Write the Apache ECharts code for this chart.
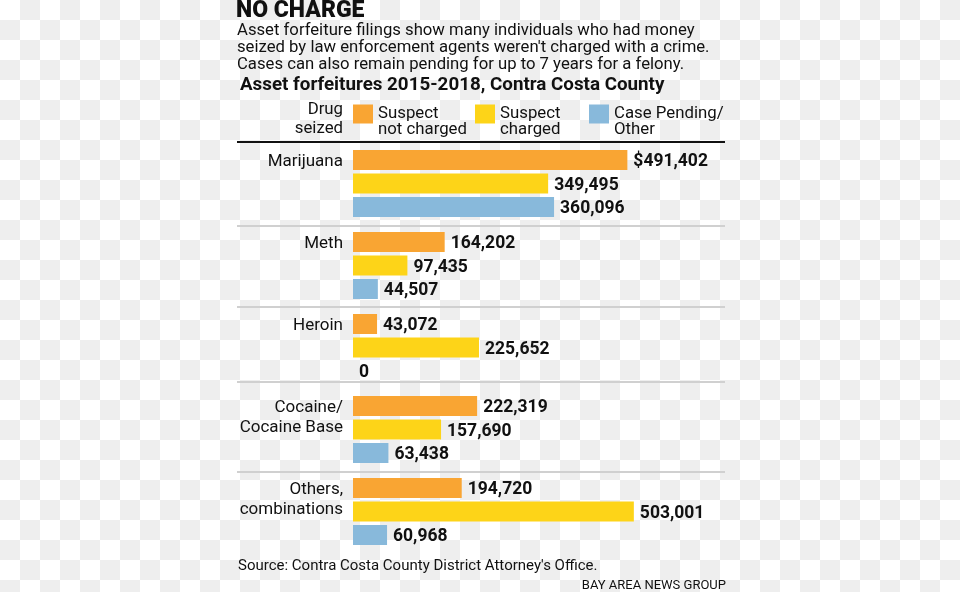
<!DOCTYPE html>
<html>
<head>
<meta charset="utf-8">
<script src="https://cdn.jsdelivr.net/npm/echarts@6/dist/echarts.min.js"></script>
<style>
html,body{margin:0;padding:0;}
body{width:960px;height:592px;background-color:#fff;
background-image:conic-gradient(#eeeeee 25%, #ffffff 0 50%, #eeeeee 0 75%, #ffffff 0);
background-size:40px 40px;}
#chart{width:960px;height:592px;}
</style>
</head>
<body>
<div id="chart"></div>
<script>
const categories = ['Marijuana', 'Meth', 'Heroin', 'Cocaine/\nCocaine Base', 'Others,\ncombinations'];
const seriesNames = ['Suspect\nnot charged', 'Suspect\ncharged', 'Case Pending/\nOther'];
const notCharged = [491402, 164202, 43072, 222319, 194720];
const charged = [349495, 97435, 225652, 157690, 503001];
const pending = [360096, 44507, 0, 63438, 60968];
const colors = ['#F9A533', '#FDD418', '#88B9DB'];

const FONT = 'Roboto';
const chart = echarts.init(document.getElementById('chart'), null, {renderer: 'canvas'});

function fmt(v) { return v.toLocaleString('en-US'); }

function makeSeries(name, data, color, idx) {
  return {
    name: name,
    type: 'bar',
    data: data,
    barWidth: 20,
    barGap: '17.5%',
    itemStyle: {color: color},
    label: {
      show: true,
      position: 'right',
      distance: 6,
      offset: [0, 2],
      fontFamily: FONT,
      fontWeight: 'bold',
      fontSize: 17.5,
      color: '#111',
      formatter: function (p) {
        return (idx === 0 && p.dataIndex === 0 ? '$' : '') + fmt(p.value);
      }
    },
    emphasis: {disabled: true},
    animation: false
  };
}

const sepY = [226, 307, 382, 472];
const graphics = [{
  type: 'line', shape: {x1: 237, y1: 142, x2: 725, y2: 142},
  style: {stroke: '#111', lineWidth: 2}, silent: true
}];
sepY.forEach(y => graphics.push({
  type: 'line', shape: {x1: 237, y1: y, x2: 725, y2: y},
  style: {stroke: '#d0d0d0', lineWidth: 2}, silent: true
}));
graphics.push({
  type: 'text', x: 343, y: 100, silent: true,
  style: {text: 'Drug\nseized', align: 'right', verticalAlign: 'top',
    fontFamily: FONT, fontSize: 16.8, lineHeight: 19, fill: '#111'}
});

const option = {
  animation: false,
  title: [
    {text: 'NO CHARGE', left: 236, top: -1, padding: 0,
      textStyle: {fontFamily: FONT, fontWeight: 900, fontSize: 23, lineHeight: 24, color: '#111'}},
    {text: "Asset forfeiture filings show many individuals who had money\nseized by law enforcement agents weren't charged with a crime.\nCases can also remain pending for up to 7 years for a felony.",
      left: 237, top: 22, padding: 0,
      textStyle: {fontFamily: FONT, fontWeight: 'normal', fontSize: 16.7, lineHeight: 17, color: '#111'}},
    {text: 'Asset forfeitures 2015-2018, Contra Costa County', left: 240, top: 75, padding: 0,
      textStyle: {fontFamily: FONT, fontWeight: 'bold', fontSize: 18.8, lineHeight: 20, color: '#111'}},
    {text: "Source: Contra Costa County District Attorney's Office.", left: 238, top: 557, padding: 0,
      textStyle: {fontFamily: FONT, fontWeight: 'normal', fontSize: 15, lineHeight: 18, color: '#111'}},
    {text: 'BAY AREA NEWS GROUP', right: 234, top: 578, padding: 0,
      textStyle: {fontFamily: FONT, fontWeight: 'normal', fontSize: 13, lineHeight: 16, color: '#111'}}
  ],
  legend: {
    left: 353, top: 89.5, padding: 0,
    itemWidth: 20, itemHeight: 19, itemGap: 0, itemStyle: {borderWidth: 0},
    icon: 'rect', selectedMode: false,
    formatter: function (name) { return ' \n' + name; },
    textStyle: {fontFamily: FONT, fontSize: 16.8, lineHeight: 16, color: '#111'},
    data: [
      {name: seriesNames[0], textStyle: {width: 97}},
      {name: seriesNames[1], textStyle: {width: 89}},
      {name: seriesNames[2]}
    ]
  },
  grid: {left: 353, top: 142.5, height: 410, right: 272, containLabel: false},
  xAxis: {
    type: 'value', min: 0, max: 600000, show: false
  },
  yAxis: {
    type: 'category', data: categories, inverse: true,
    axisLine: {show: false}, axisTick: {show: false}, splitLine: {show: false},
    axisLabel: {
      margin: 10,
      formatter: function (v) {
        const lines = v.split('\n');
        return lines.map(l => '{a|' + l + '}').join('\n') + '\n{p' + lines.length + '| }';
      },
      rich: {
        a: {fontFamily: FONT, fontSize: 17, lineHeight: 20, color: '#111', align: 'right'},
        p1: {fontSize: 10, lineHeight: 43},
        p2: {fontSize: 10, lineHeight: 23}
      }
    }
  },
  graphic: graphics,
  series: [
    makeSeries(seriesNames[0], notCharged, colors[0], 0),
    makeSeries(seriesNames[1], charged, colors[1], 1),
    makeSeries(seriesNames[2], pending, colors[2], 2)
  ]
};
chart.setOption(option);
</script>
</body>
</html>
